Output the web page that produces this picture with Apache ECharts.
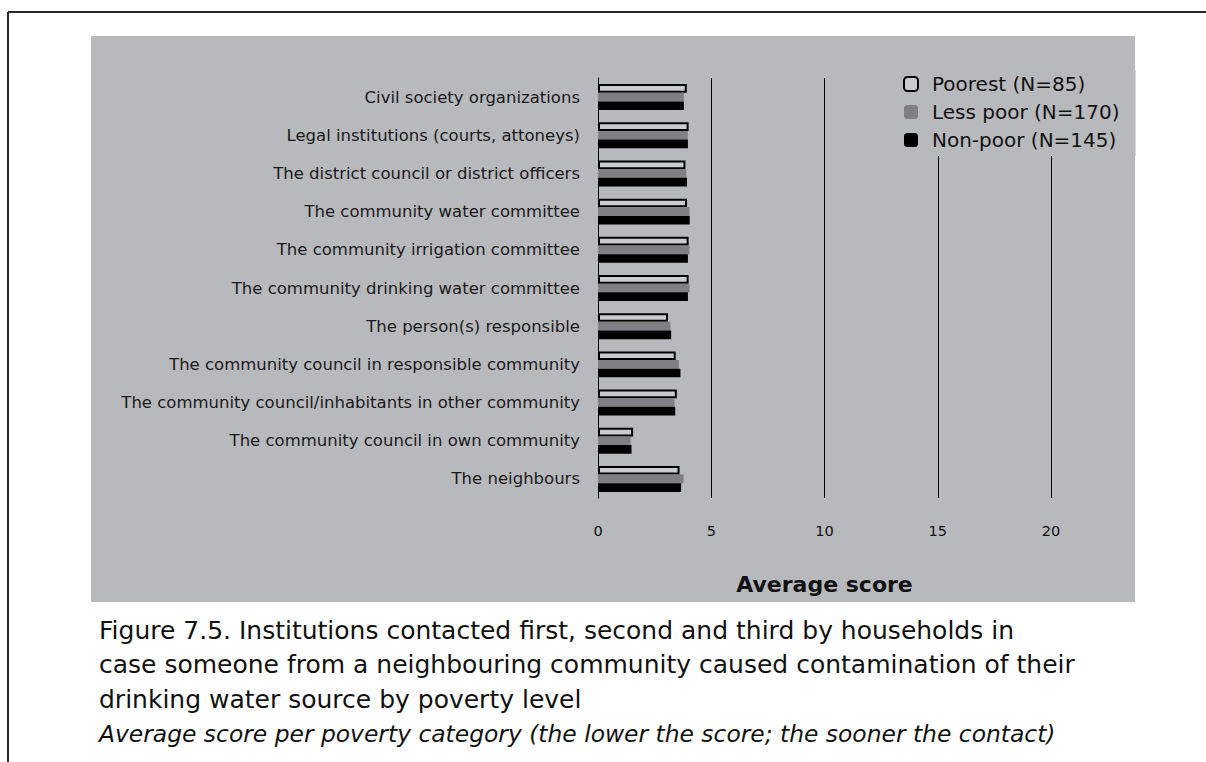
<!DOCTYPE html>
<html>
<head>
<meta charset="utf-8">
<script src="https://cdn.jsdelivr.net/npm/echarts@6/dist/echarts.min.js"></script>
<style>
html,body{margin:0;padding:0;background:#fff;}
#chart{width:1206px;height:762px;}
</style>
</head>
<body>
<div id="chart"></div>
<script>
const categories = [
  'Civil society organizations',
  'Legal institutions (courts, attoneys)',
  'The district council or district officers',
  'The community water committee',
  'The community irrigation committee',
  'The community drinking water committee',
  'The person(s) responsible',
  'The community council in responsible community',
  'The community council/inhabitants in other community',
  'The community council in own community',
  'The neighbours'
];
const seriesNames = ['Poorest (N=85)', 'Less poor (N=170)', 'Non-poor (N=145)'];
const poorest  = [3.92, 4.00, 3.86, 3.93, 4.00, 4.00, 3.09, 3.43, 3.48, 1.55, 3.60];
const lessPoor = [3.79, 3.96, 3.90, 4.04, 4.04, 4.04, 3.20, 3.57, 3.38, 1.44, 3.78];
const nonPoor  = [3.79, 3.97, 3.93, 4.05, 3.97, 3.97, 3.23, 3.64, 3.41, 1.48, 3.67];
const xTicks = { min: 0, max: 20, interval: 5 };
const captionLines = [
  'Figure 7.5. Institutions contacted first, second and third by households in',
  'case someone from a neighbouring community caused contamination of their',
  'drinking water source by poverty level'
];
const captionItalic = 'Average score per poverty category (the lower the score; the sooner the contact)';

const FONT = '"DejaVu Sans", sans-serif';
const chart = echarts.init(document.getElementById('chart'), null, { renderer: 'svg' });

const graphics = [
  { type: 'rect', z: -10, shape: { x: 91, y: 36, width: 1044, height: 566 }, style: { fill: '#b8b9bd' } },
  { type: 'line', shape: { x1: 8, y1: 12, x2: 1206, y2: 12 }, style: { stroke: '#2a2a2a', lineWidth: 2 } },
  { type: 'line', shape: { x1: 8, y1: 12, x2: 8, y2: 762 }, style: { stroke: '#2a2a2a', lineWidth: 2 } }
];
captionLines.forEach((t, i) => {
  graphics.push({ type: 'text', x: 99, y: 630 + i * 34.5, style: { text: t, font: '25px ' + FONT, fill: '#111', textVerticalAlign: 'middle' } });
});
graphics.push({ type: 'text', x: 99, y: 733.5, style: { text: captionItalic, font: 'italic 23.4px ' + FONT, fill: '#111', textVerticalAlign: 'middle' } });

chart.setOption({
  animation: false,
  textStyle: { fontFamily: FONT },
  graphic: graphics,
  grid: { left: 598, right: 155, top: 78, height: 420 },
  legend: {
    orient: 'vertical', left: 899, top: 70,
    itemWidth: 14, itemHeight: 14, itemGap: 8,
    padding: [4, 16, 6, 4],
    backgroundColor: '#b8b9bd',
    textStyle: { fontSize: 20, color: '#111', fontFamily: FONT, padding: [0, 0, 0, 9] },
    data: seriesNames
  },
  xAxis: {
    type: 'value', min: xTicks.min, max: xTicks.max, interval: xTicks.interval,
    axisLine: { show: false }, axisTick: { show: false },
    axisLabel: { margin: 25, fontSize: 14.5, color: '#111', fontFamily: FONT },
    splitLine: { show: true, lineStyle: { color: '#000', width: 1 } },
    name: 'Average score', nameLocation: 'middle', nameGap: 75,
    nameTextStyle: { fontSize: 22, fontWeight: 'bold', color: '#111', fontFamily: FONT }
  },
  yAxis: {
    type: 'category', inverse: true, data: categories,
    axisLine: { show: true, lineStyle: { color: '#000', width: 1 } },
    axisTick: { show: false },
    axisLabel: { margin: 18, fontSize: 16.5, color: '#1a1a1a', fontFamily: FONT }
  },
  series: [
    { name: seriesNames[0], type: 'bar', data: poorest, barGap: '0%', barCategoryGap: '32%',
      itemStyle: { color: '#cacbce', borderColor: '#000', borderWidth: 2 } },
    { name: seriesNames[1], type: 'bar', data: lessPoor, barGap: '0%', barCategoryGap: '32%',
      itemStyle: { color: '#808084' } },
    { name: seriesNames[2], type: 'bar', data: nonPoor, barGap: '0%', barCategoryGap: '32%',
      itemStyle: { color: '#000' } }
  ]
});
</script>
</body>
</html>
